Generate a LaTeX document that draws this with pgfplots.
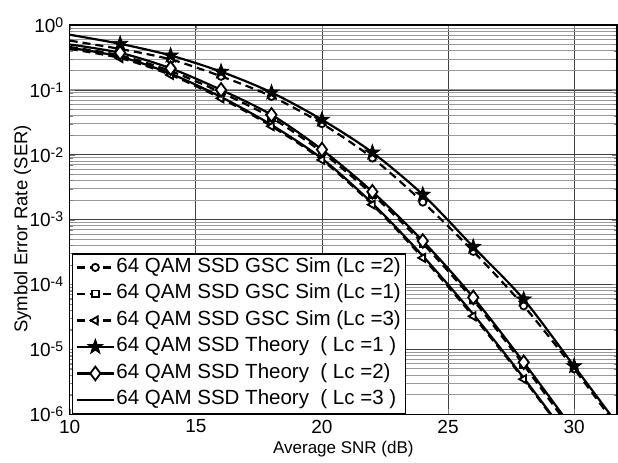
\documentclass[border=0pt]{standalone}
\usepackage{fontspec}
\setmainfont{Liberation Sans}
\usepackage{pgfplots}
\pgfplotsset{compat=1.18}
\usetikzlibrary{plotmarks}
\pgfdeclareplotmark{fstar}{%
  \pgfpathmoveto{\pgfpointpolar{90}{1.25\pgfplotmarksize}}%
  \pgfpathlineto{\pgfpointpolar{126}{0.5\pgfplotmarksize}}%
  \pgfpathlineto{\pgfpointpolar{162}{1.25\pgfplotmarksize}}%
  \pgfpathlineto{\pgfpointpolar{198}{0.5\pgfplotmarksize}}%
  \pgfpathlineto{\pgfpointpolar{234}{1.25\pgfplotmarksize}}%
  \pgfpathlineto{\pgfpointpolar{270}{0.5\pgfplotmarksize}}%
  \pgfpathlineto{\pgfpointpolar{306}{1.25\pgfplotmarksize}}%
  \pgfpathlineto{\pgfpointpolar{342}{0.5\pgfplotmarksize}}%
  \pgfpathlineto{\pgfpointpolar{18}{1.25\pgfplotmarksize}}%
  \pgfpathlineto{\pgfpointpolar{54}{0.5\pgfplotmarksize}}%
  \pgfpathclose\pgfusepathqfillstroke}
\newcommand{\sci}[1]{10\raisebox{5pt}{\fontsize{14}{14}\selectfont #1}}
\begin{document}
\begin{tikzpicture}
\begin{axis}[name=ax,
  scale only axis, width=547pt, height=389pt,
  xmin=10, xmax=31.7, ymode=log, ymin=1e-6, ymax=1,
  xtick={10,15,20,25,30},
  minor x tick num=0,
  ytick={1e-6,1e-5,1e-4,1e-3,1e-2,1e-1,1},
  yticklabels={\sci{-6},\sci{-5},\sci{-4},\sci{-3},\sci{-2},\sci{-1},\sci{0}},
  /pgf/number format/assume math mode=true,
  tick label style={font=\fontsize{19}{22}\selectfont},
  xticklabel style={yshift=-2pt},
  yticklabel style={xshift=-3pt},
  tick align=inside, tickpos=both,
  major tick length=5pt, minor tick length=3pt,
  grid=both,
  major grid style={black!75, line width=0.7pt},
  minor grid style={black!40, line width=0.8pt},
  axis line style={line width=1.4pt},
  xlabel={Average SNR (dB)},
  ylabel={Symbol Error Rate (SER)},
  xlabel style={font=\fontsize{17}{20}\selectfont, at={([yshift=-35pt]axis description cs:0.5,0)}, anchor=center},
  ylabel style={font=\fontsize{18.5}{22}\selectfont, at={([xshift=-47pt]axis description cs:0,0.476)}, anchor=center},
  legend style={at={(0.0042,0)}, anchor=south west, draw=black, line width=1.4pt,
    font=\fontsize{20.5}{24}\selectfont,
    nodes={inner sep=1.5pt, text height=15pt, text depth=5pt},
    row sep=3.5pt, inner xsep=3pt, inner ysep=2pt},
  legend cell align=left,
  legend image code/.code={\draw[mark repeat=2,mark phase=2,#1,mark indices={2}] plot coordinates {(0pt,0pt) (18.5pt,0pt) (37pt,0pt)};},
  every axis plot/.append style={line width=2.2pt, black},
]
% Sim Lc=2 (circle, dashed)
\addplot[smooth, dash pattern=on 8pt off 5pt, mark=*, mark size=3.6pt, mark options={solid, fill=white, draw=black, line width=1.8pt}, mark indices={2,...,11}]
coordinates {(10,0.575) (12,0.427) (14,0.295) (16,0.162) (18,0.0794) (20,0.0302) (22,0.00891) (24,0.00186) (26,3.24e-4) (28,4.68e-5) (30,5.01e-6) (32,4.47e-7)};
\addlegendentry{64 QAM SSD GSC Sim (Lc =2)}
% Sim Lc=1 (square, dashed)
\addplot[smooth, dash pattern=on 8pt off 5pt, mark=square*, mark size=3.4pt, mark options={solid, fill=white, draw=black, line width=1.8pt}, mark indices={2,...,10}]
coordinates {(10,0.457) (12,0.339) (14,0.195) (16,0.0912) (18,0.0372) (20,0.01096) (22,0.00245) (24,4.27e-4) (26,5.75e-5) (28,5.75e-6) (30,5.0e-7)};
\addlegendentry{64 QAM SSD GSC Sim (Lc =1)}
% Sim Lc=3 (triangle left, dashed)
\addplot[smooth, dash pattern=on 8pt off 5pt, mark=triangle*, mark size=4.6pt, mark options={solid, fill=white, draw=black, line width=1.8pt, rotate=90}, mark indices={2,...,10}]
coordinates {(10,0.427) (12,0.309) (14,0.170) (16,0.0741) (18,0.0275) (20,0.00832) (22,0.00170) (24,2.57e-4) (26,3.24e-5) (28,3.47e-6) (30,3.16e-7)};
\addlegendentry{64 QAM SSD GSC Sim (Lc =3)}
% Theory Lc=1 (star)
\addplot[smooth, mark=fstar, mark size=6.3pt, mark options={solid, fill=black, line width=0.8pt}, mark indices={2,...,11}]
coordinates {(10,0.708) (12,0.513) (14,0.339) (16,0.191) (18,0.0912) (20,0.0347) (22,0.01084) (24,0.002427) (26,3.80e-4) (28,5.89e-5) (30,5.50e-6) (32,5.01e-7)};
\addlegendentry{64 QAM SSD Theory\ \ ( Lc =1 )}
% Theory Lc=2 (diamond)
\addplot[smooth, mark=diamond*, mark size=6.8pt, mark options={solid, fill=white, draw=black, line width=1.8pt}, mark indices={2,...,10}]
coordinates {(10,0.501) (12,0.372) (14,0.215) (16,0.1) (18,0.0412) (20,0.0120) (22,0.00269) (24,4.68e-4) (26,6.31e-5) (28,6.31e-6) (30,5.62e-7)};
\addlegendentry{64 QAM SSD Theory\ \ ( Lc =2)}
% Theory Lc=3 (no marker)
\addplot[smooth, no markers]
coordinates {(10,0.447) (12,0.324) (14,0.178) (16,0.0776) (18,0.0288) (20,0.00871) (22,0.00178) (24,2.75e-4) (26,3.47e-5) (28,3.63e-6) (30,3.31e-7)};
\addlegendentry{64 QAM SSD Theory\ \ ( Lc =3 )}
\end{axis}
\pgfresetboundingbox
\path[use as bounding box] ([xshift=-69.7pt,yshift=-48pt]ax.south west) rectangle ([xshift=1pt,yshift=25pt]ax.north east);
\end{tikzpicture}
\end{document}
